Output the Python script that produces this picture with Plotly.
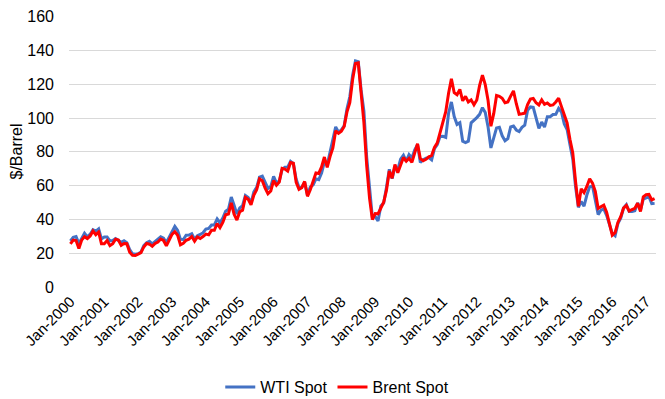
import plotly.graph_objects as go
import pandas as pd

months = [d.strftime("%b-%Y") for d in pd.date_range("2000-01-01", "2017-04-01", freq="MS")]

wti_spot = [
    27.26, 29.37, 29.84, 25.72, 28.79, 31.82, 29.70, 31.26, 33.88, 33.11, 34.42, 28.44,
    29.59, 29.61, 27.25, 27.49, 28.63, 27.60, 26.43, 27.37, 26.20, 22.17, 19.64, 19.39,
    19.72, 20.72, 24.53, 26.18, 27.04, 25.52, 26.97, 28.39, 29.66, 28.84, 26.35, 29.46,
    32.95, 35.83, 33.51, 28.17, 28.11, 30.66, 30.76, 31.57, 28.31, 30.34, 31.11, 32.13,
    34.31, 34.69, 36.74, 36.75, 40.28, 38.03, 40.78, 44.90, 45.94, 53.28, 48.47, 43.15,
    46.84, 48.15, 54.19, 52.98, 49.83, 56.35, 59.00, 64.99, 65.59, 62.26, 58.32, 59.41,
    65.49, 61.63, 62.69, 69.44, 70.84, 70.95, 74.41, 73.04, 63.80, 58.89, 59.08, 61.96,
    54.51, 59.28, 60.44, 63.98, 63.46, 67.49, 74.12, 72.36, 79.92, 85.80, 94.77, 91.69,
    92.97, 95.39, 105.45, 112.58, 125.40, 133.88, 133.37, 116.67, 104.11, 76.61, 57.31, 41.12,
    41.71, 39.09, 47.94, 49.65, 59.03, 69.64, 64.15, 71.05, 69.41, 75.72, 77.99, 74.47,
    78.33, 76.39, 81.20, 84.29, 73.74, 75.34, 76.32, 76.60, 75.24, 81.89, 84.25, 89.15,
    89.17, 88.58, 102.86, 109.53, 100.90, 96.26, 97.30, 86.33, 85.52, 86.32, 97.16, 98.56,
    100.27, 102.20, 106.16, 103.32, 94.66, 82.30, 87.90, 94.13, 94.51, 89.49, 86.53, 87.86,
    94.76, 95.31, 92.94, 92.02, 94.51, 95.77, 104.67, 106.57, 106.29, 100.54, 93.86, 97.63,
    94.62, 100.82, 100.80, 102.07, 102.18, 105.79, 103.59, 96.54, 93.21, 84.40, 75.79, 59.29,
    47.22, 50.58, 47.82, 54.45, 59.27, 59.82, 50.90, 42.87, 45.48, 46.22, 42.44, 37.19,
    31.68, 30.32, 37.55, 40.75, 46.71, 48.76, 44.65, 44.72, 45.18, 49.78, 45.66, 51.97,
    52.50, 53.47, 49.33, 49.50,
]

brent_spot = [
    25.51, 27.78, 27.49, 22.76, 27.74, 29.80, 28.68, 30.20, 33.14, 30.96, 32.55, 25.66,
    25.62, 27.50, 24.50, 25.66, 28.31, 27.85, 24.61, 25.68, 25.62, 20.54, 18.80, 18.71,
    19.42, 20.28, 23.70, 25.73, 25.35, 24.08, 25.74, 26.65, 28.40, 27.54, 24.34, 28.33,
    31.18, 32.77, 30.61, 25.00, 25.86, 27.65, 28.35, 29.89, 27.11, 29.61, 28.75, 29.81,
    31.28, 30.86, 33.63, 33.59, 37.57, 35.18, 38.22, 42.74, 43.20, 49.78, 43.11, 39.60,
    44.51, 45.48, 53.10, 51.88, 48.65, 54.35, 57.52, 63.98, 62.91, 58.54, 55.24, 56.86,
    62.99, 60.21, 62.06, 70.26, 69.78, 68.56, 73.67, 73.23, 61.96, 57.81, 58.76, 62.47,
    53.68, 57.56, 62.05, 67.49, 67.21, 71.05, 76.93, 70.76, 77.17, 82.34, 92.41, 90.93,
    92.18, 94.99, 103.64, 109.07, 122.80, 132.32, 132.72, 113.24, 97.23, 71.58, 52.45, 39.95,
    43.44, 43.32, 46.54, 50.18, 57.30, 68.61, 64.44, 72.51, 67.65, 72.77, 76.66, 74.46,
    76.17, 73.75, 78.83, 84.82, 75.95, 74.76, 75.58, 77.04, 77.84, 82.67, 85.28, 91.45,
    96.52, 103.72, 114.64, 123.26, 114.99, 113.83, 116.97, 110.22, 112.83, 109.55, 110.77, 107.87,
    110.69, 119.33, 125.45, 119.75, 110.34, 95.16, 102.62, 113.36, 112.86, 111.71, 109.06, 109.49,
    112.96, 116.05, 108.47, 102.25, 102.56, 102.92, 107.93, 111.28, 111.60, 109.08, 107.79, 110.76,
    108.12, 108.90, 107.48, 107.76, 109.54, 111.80, 106.77, 101.61, 97.09, 87.43, 79.44, 62.34,
    47.76, 58.10, 55.89, 59.52, 64.08, 61.48, 56.56, 46.52, 47.62, 48.43, 44.27, 38.01,
    30.70, 32.18, 38.21, 41.58, 46.74, 48.25, 44.95, 45.84, 46.57, 49.52, 44.73, 53.31,
    54.58, 54.87, 51.59, 52.31,
]

tick_labels = [m for m in months if m.startswith("Jan")]
y_ticks = [0, 20, 40, 60, 80, 100, 120, 140, 160]

fig = go.Figure()
fig.add_trace(go.Scatter(x=months, y=wti_spot, mode="lines", name="WTI Spot",
                         line=dict(color="#4472C4", width=3)))
fig.add_trace(go.Scatter(x=months, y=brent_spot, mode="lines", name="Brent Spot",
                         line=dict(color="#FF0000", width=3)))

font_family = "Liberation Sans, Arial, sans-serif"
fig.update_layout(
    width=665, height=399,
    margin=dict(l=61, r=17, t=8, b=120, autoexpand=False),
    paper_bgcolor="white", plot_bgcolor="white",
    font=dict(family=font_family, size=16, color="#000000"),
    showlegend=True,
    legend=dict(orientation="h", x=0.457, xanchor="center",
                yref="container", y=0.05, yanchor="middle",
                font=dict(size=16), itemwidth=30, tracegroupgap=0),
    xaxis=dict(type="category", range=[-0.5, len(months) - 0.5], automargin=False,
               tickmode="array", tickvals=tick_labels, ticktext=tick_labels,
               tickangle=-45, showgrid=False, showline=False, zeroline=False,
               ticks="", tickfont=dict(size=15), ticklabelstandoff=2),
    yaxis=dict(range=[0, 160.4], tickvals=y_ticks, showgrid=True, gridcolor="#D9D9D9",
               gridwidth=1.3, zeroline=False, showline=False, ticks="", automargin=False,
               ticklabeloverflow="allow",
               tickfont=dict(size=16), ticklabelstandoff=14,
               title=dict(text="$/Barrel", font=dict(size=16), standoff=1)),
)

fig.write_html("out.html")
